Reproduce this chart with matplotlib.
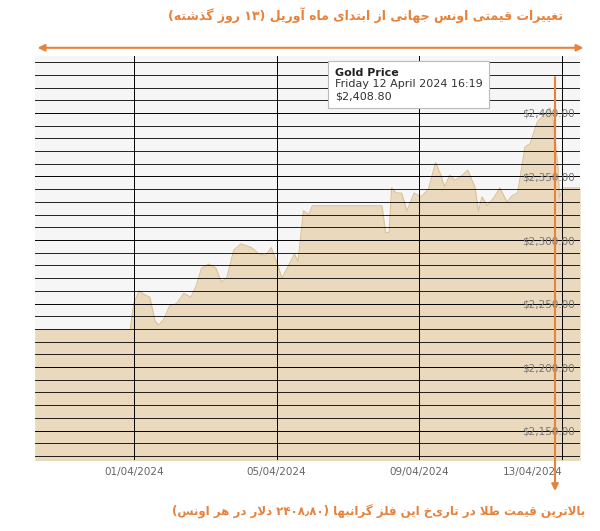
import matplotlib
matplotlib.use("Agg")
import matplotlib.pyplot as plt
from matplotlib.transforms import blended_transform_factory
import datetime as dt

# day offsets from 2024-04-01 and gold price in USD/oz
days = [-2.77, -0.1, 0.0, 0.15, 0.3, 0.45, 0.6, 0.7, 0.85, 1.0, 1.2, 1.4, 1.6, 1.75,
        1.9, 2.1, 2.3, 2.45, 2.6, 2.8, 3.0, 3.3, 3.5, 3.7, 3.85, 4.0, 4.15, 4.3, 4.5,
        4.6, 4.75, 4.9, 5.0, 6.95, 7.05, 7.15, 7.22, 7.35, 7.5, 7.65, 7.85, 8.05,
        8.25, 8.45, 8.6, 8.7, 8.85, 9.0, 9.2, 9.35, 9.55, 9.65, 9.75, 9.9, 10.1,
        10.25, 10.45, 10.6, 10.75, 10.95, 11.1, 11.3, 11.5, 11.65, 11.75, 11.88,
        11.92, 12.0, 12.5]
prices = [2229.5, 2229.5, 2250, 2260, 2257, 2255, 2236, 2233, 2238, 2248, 2250,
          2258, 2255, 2264, 2278, 2281, 2278, 2267, 2270, 2292, 2297, 2294, 2289,
          2288, 2294, 2283, 2270, 2278, 2289, 2283, 2323, 2320, 2327, 2327, 2306,
          2306, 2341, 2337, 2337, 2323, 2337, 2334, 2340, 2361, 2351, 2342, 2351,
          2347, 2351, 2355, 2342, 2323, 2334, 2327, 2334, 2341, 2330, 2335, 2337,
          2373, 2376, 2393, 2399, 2404, 2393, 2356, 2333, 2341, 2341]
y_ticks = [2150, 2200, 2250, 2300, 2350, 2400]
x_tick_days = [0, 4, 8, 12]

title_fa = "تغییرات قیمتی اونس جهانی از ابتدای ماه آوریل (۱۳ روز گذشته)"
note_fa = "بالاترین قیمت طلا در تاریخ این فلز گرانبها (۲۴۰۸٫۸۰ دلار در هر اونس)"

FORMS = {  # isolated, final, initial, medial
    "ا": (0xFE8D, 0xFE8E), "آ": (0xFE81, 0xFE82), "د": (0xFEA9, 0xFEAA),
    "ذ": (0xFEAB, 0xFEAC), "ر": (0xFEAD, 0xFEAE), "ز": (0xFEAF, 0xFEB0),
    "و": (0xFEED, 0xFEEE),
    "ب": (0xFE8F, 0xFE90, 0xFE91, 0xFE92), "پ": (0xFB56, 0xFB57, 0xFB58, 0xFB59),
    "ت": (0xFE95, 0xFE96, 0xFE97, 0xFE98), "ج": (0xFE9D, 0xFE9E, 0xFE9F, 0xFEA0),
    "س": (0xFEB1, 0xFEB2, 0xFEB3, 0xFEB4), "ش": (0xFEB5, 0xFEB6, 0xFEB7, 0xFEB8),
    "ط": (0xFEC1, 0xFEC2, 0xFEC3, 0xFEC4), "ع": (0xFEC9, 0xFECA, 0xFECB, 0xFECC),
    "غ": (0xFECD, 0xFECE, 0xFECF, 0xFED0), "ف": (0xFED1, 0xFED2, 0xFED3, 0xFED4),
    "ق": (0xFED5, 0xFED6, 0xFED7, 0xFED8), "ک": (0xFB8E, 0xFB8F, 0xFB90, 0xFB91),
    "گ": (0xFB92, 0xFB93, 0xFB94, 0xFB95), "ل": (0xFEDD, 0xFEDE, 0xFEDF, 0xFEE0),
    "م": (0xFEE1, 0xFEE2, 0xFEE3, 0xFEE4), "ن": (0xFEE5, 0xFEE6, 0xFEE7, 0xFEE8),
    "ه": (0xFEE9, 0xFEEA, 0xFEEB, 0xFEEC), "ی": (0xFBFC, 0xFBFD, 0xFBFE, 0xFBFF),
}


def shape_rtl(s):
    out = []
    chars = list(s)
    i = 0
    n = len(chars)
    while i < n:
        c = chars[i]
        if c not in FORMS:
            out.append(c)
            i += 1
            continue
        prev = chars[i - 1] if i > 0 else ""
        joins_prev = prev in FORMS and len(FORMS[prev]) == 4
        if c == "ل" and i + 1 < n and chars[i + 1] == "ا":
            out.append(chr(0xFEFC if joins_prev else 0xFEFB))
            i += 2
            continue
        nxt = chars[i + 1] if i + 1 < n else ""
        f = FORMS[c]
        joins_next = len(f) == 4 and nxt in FORMS
        if joins_prev and joins_next:
            out.append(chr(f[3]))
        elif joins_next:
            out.append(chr(f[2]))
        elif joins_prev:
            out.append(chr(f[1]))
        else:
            out.append(chr(f[0]))
        i += 1
    vis = "".join(out)[::-1]
    vis = vis.translate(str.maketrans("()", ")("))
    # keep digit runs left-to-right
    res, run = "", ""
    for c in vis:
        if c in "۰۱۲۳۴۵۶۷۸۹٫":
            run += c
        else:
            res += run[::-1] + c
            run = ""
    return res + run[::-1]


orange = "#e8823a"
base = dt.datetime(2024, 4, 1)
dates = [base + dt.timedelta(days=d) for d in days]

fig = plt.figure(figsize=(6, 5.31), dpi=100)
ax = fig.add_axes([0.058, 0.134, 0.909, 0.761])
ax.set_facecolor("#f6f6f6")
ax.fill_between(dates, prices, 2100, color="#ead9bd", lw=0)
ax.plot(dates, prices, color="#dcc196", lw=0.8)
ax.set_ylim(2127, 2445)
ax.set_xlim(base + dt.timedelta(days=-2.77), base + dt.timedelta(days=12.5))

ax.set_yticks(y_ticks)
ax.set_yticks(range(2130, 2450, 10), minor=True)
ax.yaxis.tick_right()
ax.set_yticklabels(["$" + f"{v:,.2f}" for v in y_ticks])
for lab in ax.get_yticklabels():
    lab.set_horizontalalignment("right")
ax.tick_params(axis="y", which="both", length=0, pad=-4, labelsize=7.5, labelcolor="#777777")
xt = [base + dt.timedelta(days=d) for d in x_tick_days]
ax.set_xticks(xt)
ax.set_xticklabels([d.strftime("%d/%m/%Y") for d in xt])
ax.tick_params(axis="x", length=0, labelsize=7.5, labelcolor="#666666", pad=5)
ax.get_xticklabels()[-1].set_horizontalalignment("right")
ax.grid(True, which="minor", axis="y", color=(0, 0, 0, 0.05), lw=0.6)
ax.grid(True, which="major", color=(0, 0, 0, 0.10), lw=0.7)
ax.set_axisbelow(False)
for sp in ax.spines.values():
    sp.set_visible(False)

# tooltip
trans = blended_transform_factory(ax.transAxes, ax.transAxes)
ax.text(0.55, 0.97, "\nFriday 12 April 2024 16:19\n$2,408.80", fontsize=8, va="top",
        color="#333333", transform=trans, zorder=6,
        bbox=dict(boxstyle="square,pad=0.6", fc="white", ec="#bbbbbb", lw=0.8))
ax.text(0.55, 0.97, "Gold Price\n\n", fontsize=8, fontweight="bold", va="top",
        color="#222222", transform=trans, zorder=7)

# arrows and Persian text
fig.patches.append(matplotlib.patches.FancyArrowPatch(
    (0.058, 0.910), (0.977, 0.910), transform=fig.transFigure, arrowstyle="<|-|>",
    mutation_scale=10, color=orange, lw=1.5))
fig.patches.append(matplotlib.patches.FancyArrowPatch(
    (0.925, 0.86), (0.925, 0.07), transform=fig.transFigure, arrowstyle="-|>",
    mutation_scale=10, color=orange, lw=1.5))
fig.text(0.61, 0.972, shape_rtl(title_fa), ha="center", va="center", fontsize=9,
         fontweight="bold", color=orange, family=["DejaVu Sans"])
fig.text(0.975, 0.036, shape_rtl(note_fa), ha="right", va="center", fontsize=8.5,
         fontweight="bold", color=orange, family=["DejaVu Sans"])

fig.savefig("out.png", dpi=100, facecolor="white")
